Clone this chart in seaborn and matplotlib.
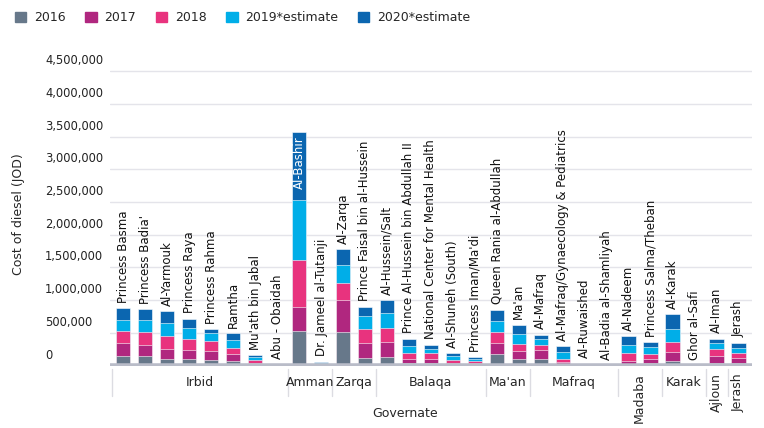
import matplotlib
matplotlib.use("Agg")
import matplotlib.pyplot as plt
import matplotlib.transforms as mtrans
from matplotlib.patches import Patch
import seaborn as sns
import pandas as pd
import numpy as np

plt.rcParams["font.family"] = "Inter"

hospitals = ["Princess Basma", "Princess Badia'", "Al-Yarmouk", "Princess Raya", "Princess Rahma",
             "Ramtha", "Mu'ath bin Jabal", "Abu - Obaidah", "Al-Bashir", "Dr. Jameel al-Tutanji",
             "Al-Zarqa", "Prince Faisal bin al-Hussein", "Al-Hussein/Salt",
             "Prince Al-Hussein bin Abdullah II", "National Center for Mental Health",
             "Al-Shuneh (South)", "Princess Iman/Ma'di", "Queen Rania al-Abdullah", "Ma'an",
             "Al-Mafraq", "Al-Mafraq/Gynaecology & Pediatrics", "Al-Ruwaished",
             "Al-Badia al-Shamliyah", "Al-Nadeem", "Princess Salma/Theban", "Al-Karak",
             "Ghor al-Safi", "Al-Iman", "Jerash"]
governorates = ["Irbid"] * 8 + ["Amman"] * 2 + ["Zarqa"] * 2 + ["Balaqa"] * 5 + ["Ma'an"] * 2 + \
               ["Mafraq"] * 4 + ["Madaba"] * 2 + ["Karak"] * 2 + ["Ajloun"] + ["Jerash"]
v2016 = [138e3, 138e3, 107e3, 92e3, 82e3, 66e3, 20e3, 0, 520e3, 10e3, 505e3, 117e3, 128e3, 41e3, 46e3,
         15e3, 10e3, 179e3, 92e3, 92e3, 5e3, 0, 0, 26e3, 41e3, 66e3, 0, 46e3, 41e3]
v2017 = [209e3, 173e3, 153e3, 138e3, 138e3, 112e3, 26e3, 0, 372e3, 10e3, 490e3, 230e3, 230e3, 56e3, 61e3,
         26e3, 26e3, 163e3, 128e3, 143e3, 46e3, 0, 0, 41e3, 56e3, 148e3, 0, 97e3, 77e3]
v2018 = [173e3, 199e3, 189e3, 173e3, 153e3, 97e3, 41e3, 0, 714e3, 10e3, 260e3, 209e3, 219e3, 92e3, 82e3,
         46e3, 31e3, 168e3, 112e3, 71e3, 56e3, 0, 0, 117e3, 77e3, 143e3, 0, 102e3, 77e3]
v2019 = [179e3, 184e3, 199e3, 168e3, 117e3, 112e3, 36e3, 5e3, 918e3, 10e3, 276e3, 194e3, 219e3, 107e3, 71e3,
         56e3, 26e3, 163e3, 148e3, 92e3, 92e3, 10e3, 0, 122e3, 102e3, 199e3, 0, 97e3, 77e3]
v2020 = [179e3, 168e3, 179e3, 143e3, 61e3, 107e3, 36e3, 5e3, 1041e3, 15e3, 245e3, 148e3, 204e3, 112e3, 61e3,
         46e3, 31e3, 179e3, 143e3, 71e3, 92e3, 20e3, 0, 138e3, 82e3, 230e3, 0, 66e3, 77e3]
series = ["2016", "2017", "2018", "2019*estimate", "2020*estimate"]
colors = ["#67788a", "#b0277f", "#e8337e", "#00aee8", "#0b66b0"]
yticks = [0, 500000, 1000000, 1500000, 2000000, 2500000, 3000000, 3500000, 4000000, 4500000]

vals = np.array([v2016, v2017, v2018, v2019, v2020])
cum = np.cumsum(vals, axis=0)
n = len(hospitals)

fig = plt.figure(figsize=(7.64, 4.28), dpi=100)
ax = fig.add_axes([0.144, 0.146, 0.840, 0.703])
sns.set_style("white")
order = list(range(n))
for i in range(4, -1, -1):
    df = pd.DataFrame({"x": order, "y": cum[i]})
    sns.barplot(data=df, x="x", y="y", order=order, color=colors[i], width=0.66,
                saturation=1, ax=ax, edgecolor="white", linewidth=0.4)

ax.set_xlim(-0.6, n - 0.4)
ax.set_ylim(0, 4.6e6)
ax.set_yticks(yticks)
ax.set_yticklabels([])
yt = mtrans.blended_transform_factory(ax.transAxes, ax.transData)
for t in yticks:
    ax.axhline(t, color="#e4e4ea", lw=1, zorder=0)
    ax.text(-0.101, t + 60000, f"{t:,}", transform=yt,
            ha="left", va="bottom", fontsize=8.3, color="#222")
ax.axhline(0, color="#b9bcc8", lw=4, zorder=5)
ax.tick_params(left=False, bottom=False)
ax.set_xticks([])
ax.set_xlabel("")
ax.set_ylabel("")
for s in ax.spines.values():
    s.set_visible(False)

totals = cum[-1]
for i, name in enumerate(hospitals):
    if name == "Al-Bashir":
        ax.annotate(name, (i, totals[i]), xytext=(0, -3), textcoords="offset points",
                    rotation=90, ha="center", va="top", fontsize=8.5, color="white")
    else:
        ax.annotate(name, (i, totals[i]), xytext=(0, 4), textcoords="offset points",
                    rotation=90, ha="center", va="bottom", fontsize=8.5, color="#111")

bt = mtrans.blended_transform_factory(ax.transData, ax.transAxes)
groups = []
for i, g in enumerate(governorates):
    if not groups or groups[-1][0] != g:
        groups.append([g, i, i])
    else:
        groups[-1][2] = i
for g, a, b in groups:
    ax.plot([a - 0.5, a - 0.5], [-0.01, -0.1], transform=bt, color="#dcdce2", lw=1, clip_on=False)
    c = (a + b) / 2
    if g in ("Madaba", "Ajloun", "Jerash"):
        ax.text(c, -0.025, g, transform=bt, rotation=90, ha="center", va="top", fontsize=9)
    else:
        ax.text(c, -0.055, g, transform=bt, ha="center", va="center", fontsize=9)

fig.text(0.53, 0.035, "Governate", ha="center", va="center", fontsize=9)
fig.text(0.024, 0.5, "Cost of diesel (JOD)", rotation=90, ha="center", va="center", fontsize=9)

handles = [Patch(color=c, label=s) for c, s in zip(colors, series)]
fig.legend(handles=handles, loc="upper left", bbox_to_anchor=(0.005, 1.0), ncol=5, frameon=False,
           fontsize=9, handlelength=0.9, handleheight=0.9, columnspacing=1.6, handletextpad=0.6)

fig.savefig("out.png", dpi=100)
